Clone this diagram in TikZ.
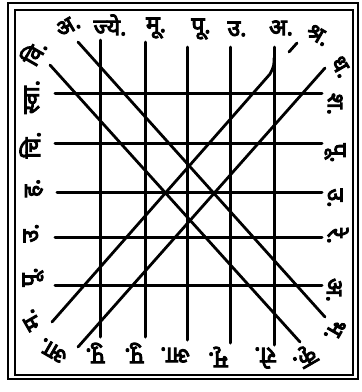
\documentclass[tikz,border=0pt]{standalone}
\usepackage{fontspec}
\newfontfamily\dev[Script=Devanagari]{Noto Sans}
\newcommand\heavy[1]{\special{pdf:literal direct 2 Tr 1 w}#1\special{pdf:literal direct 0 Tr}}
\begin{document}
\begin{tikzpicture}[x=1pt,y=-1pt,
  gridline/.style={line width=3pt, line cap=round},
  diagline/.style={line width=2.8pt, line cap=round},
  outerframe/.style={line width=2pt},
  innerframe/.style={line width=1.4pt},
  lbl/.style={font=\dev\fontsize{23}{23}\selectfont, inner sep=0pt}]
\useasboundingbox (0,0) rectangle (362,392);
\fill[white] (0,0) rectangle (362,392);
% frame
\draw[outerframe] (8,3) rectangle (358,379);
\draw[innerframe] (15,10) rectangle (353,375);
% vertical line ends
\coordinate (v1t) at (100,40);  \coordinate (v1b) at (100,337);
\coordinate (v2t) at (145,42);  \coordinate (v2b) at (145,337);
\coordinate (v3t) at (187,47);  \coordinate (v3b) at (187,340);
\coordinate (v4t) at (230,47);  \coordinate (v4b) at (230,343);
\coordinate (v5t) at (274,47);  \coordinate (v5b) at (274,345);
% horizontal line ends
\coordinate (h1l) at (55,93);   \coordinate (h1r) at (322,93);
\coordinate (h2l) at (55,143);  \coordinate (h2r) at (322,143);
\coordinate (h3l) at (57,192);  \coordinate (h3r) at (322,192);
\coordinate (h4l) at (55,237);  \coordinate (h4r) at (322,237);
\coordinate (h5l) at (55,285);  \coordinate (h5r) at (322,285);
% diagonal ends
\coordinate (pA) at (50,65);   \coordinate (pB) at (300,342);
\coordinate (qA) at (78,42);   \coordinate (qB) at (325,317);
\coordinate (rA) at (325,68);  \coordinate (rB) at (78,347);
\coordinate (sA) at (297,43);  \coordinate (sA2) at (289,52);
\coordinate (sC) at (270,74);  \coordinate (sB) at (52,322);
\coordinate (sK) at (274,58);
% grid
\foreach \i in {1,...,5}{
  \draw[gridline] (v\i t) -- (v\i b);
  \draw[gridline] (h\i l) -- (h\i r);
}
% diagonals
\draw[diagline] (pA) -- (pB);
\draw[diagline] (qA) -- (qB);
\draw[diagline] (rA) -- (rB);
\draw[diagline] (sA) -- (sA2);
\draw[diagline] (sK) .. controls (274,66) .. (sC) -- (sB);
% top row
\node[lbl, rotate=30] (t1) at (68,26) {\heavy{अ.}};
\node[lbl] (t2) at (110,25) {\heavy{ज्ये.}};
\node[lbl] (t3) at (156,28) {\heavy{मू.}};
\node[lbl] (t4) at (201,29) {\heavy{पू.}};
\node[lbl] (t5) at (237,29) {\heavy{उ.}};
\node[lbl] (t6) at (281,28) {\heavy{अ.}};
\node[lbl, rotate=-30] (t7) at (318,35) {\heavy{श्र.}};
% right column
\node[lbl, rotate=-60] (r1) at (341,67) {\heavy{ध.}};
\node[lbl, rotate=-90] (r2) at (335,104) {\heavy{श.}};
\node[lbl, rotate=-90] (r3) at (335,153) {\heavy{पू.}};
\node[lbl, rotate=-90] (r4) at (335,198) {\heavy{उ.}};
\node[lbl, rotate=-90] (r5) at (338,236) {\heavy{रे.}};
\node[lbl, rotate=-90] (r6) at (334,290) {\heavy{अ.}};
\node[lbl, rotate=-120] (r7) at (335,330) {\heavy{भ.}};
% bottom row
\node[lbl, rotate=210] (b7) at (304,357) {\heavy{कृ.}};
\node[lbl, rotate=180] (b6) at (265,358) {\heavy{रो.}};
\node[lbl, rotate=180] (b5) at (218,357) {\heavy{मृ.}};
\node[lbl, rotate=180] (b4) at (175,355) {\heavy{आ.}};
\node[lbl, rotate=180] (b3) at (134,353) {\heavy{पु.}};
\node[lbl, rotate=180] (b2) at (95,353) {\heavy{पु.}};
\node[lbl, rotate=150] (b1) at (53,351) {\heavy{आ.}};
% left column
\node[lbl, rotate=120] (l7) at (31,320) {\heavy{म.}};
\node[lbl, rotate=90] (l6) at (33,277) {\heavy{पू.}};
\node[lbl, rotate=90] (l5) at (31,233) {\heavy{उ.}};
\node[lbl, rotate=90] (l4) at (34,188) {\heavy{ह.}};
\node[lbl, rotate=90] (l3) at (30,145) {\heavy{चि.}};
\node[lbl, rotate=90] (l2) at (32,97) {\heavy{स्वा.}};
\node[lbl, rotate=60] (l1) at (33,52) {\heavy{वि.}};
\end{tikzpicture}
\end{document}
